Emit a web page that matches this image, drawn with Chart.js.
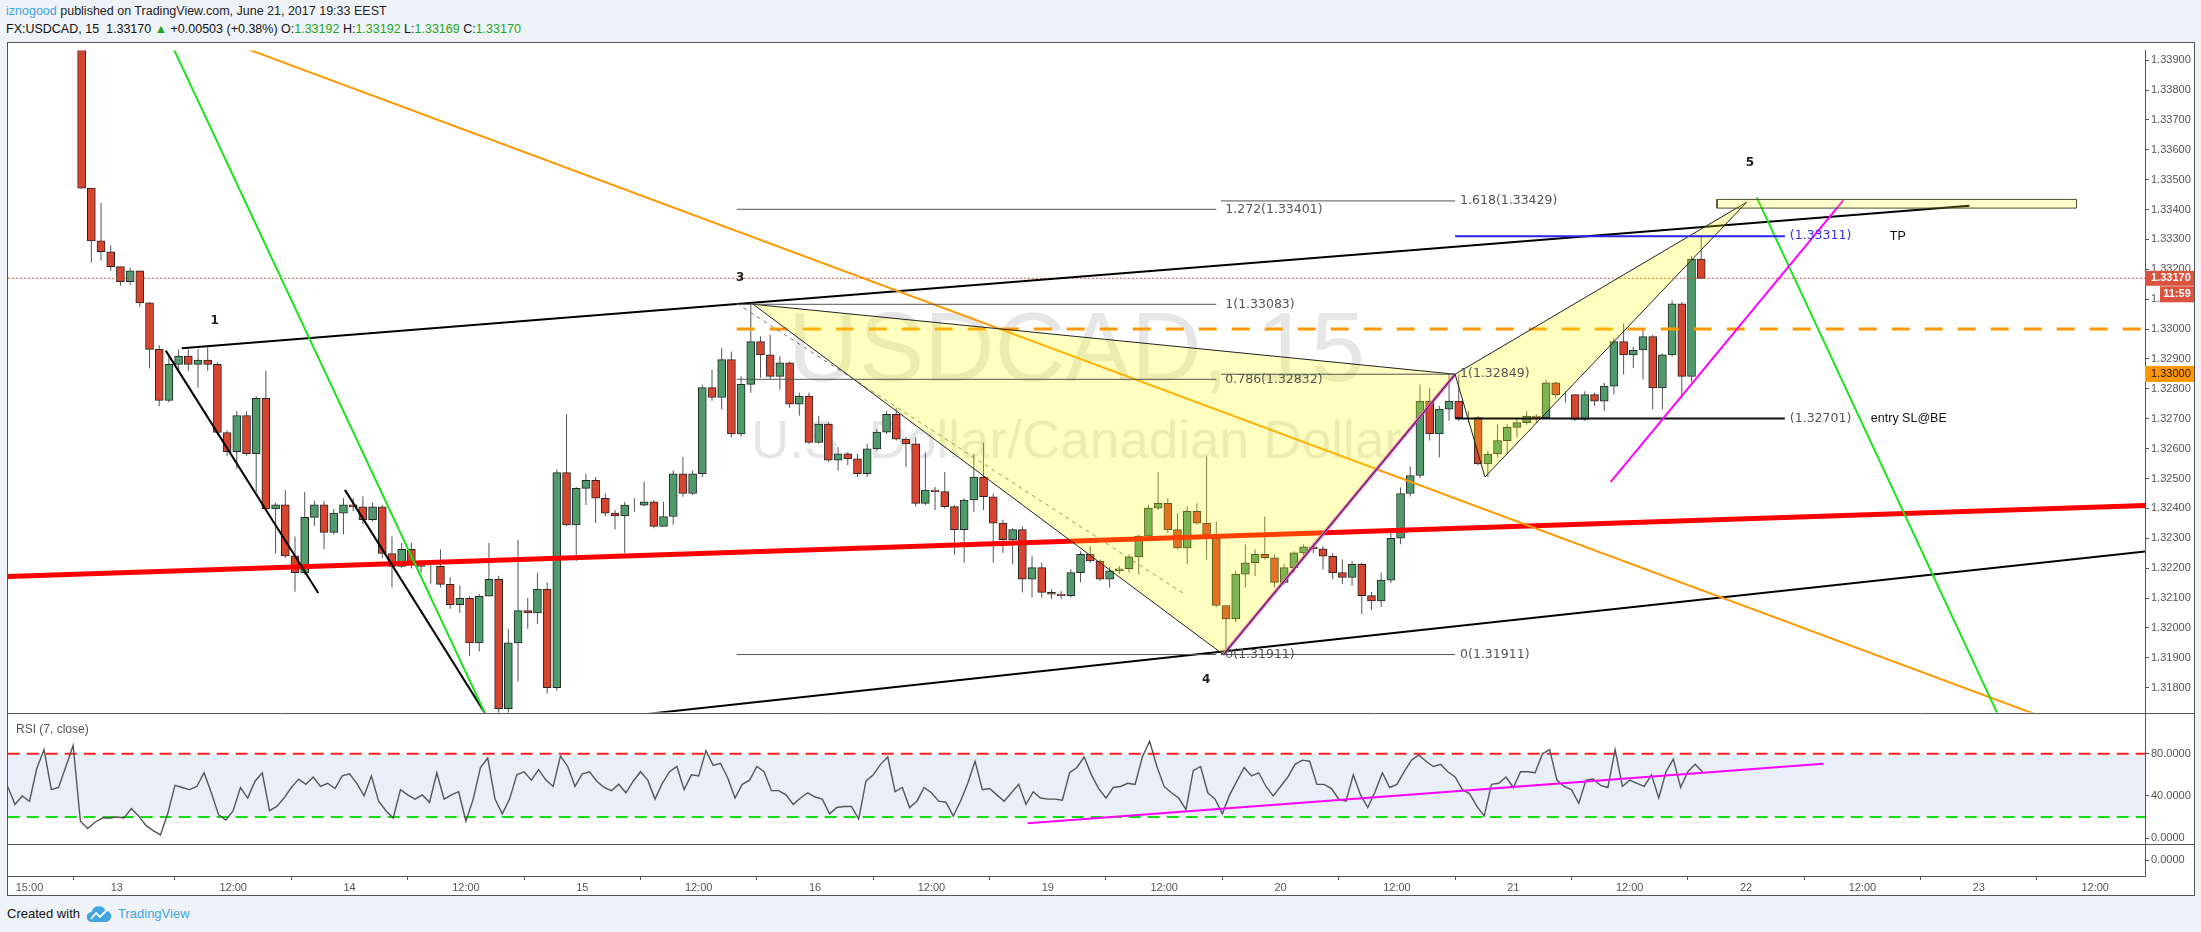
<!DOCTYPE html>
<html>
<head>
<meta charset="utf-8">
<script src="https://cdn.jsdelivr.net/npm/chart.js@4.4.1/dist/chart.umd.min.js"></script>
<style>
  html, body { margin: 0; padding: 0; width: 2201px; height: 932px; overflow: hidden; background: #eff3f7;
    font-family: "Liberation Sans", Arial, sans-serif; }
  #hdr1 { position: absolute; left: 6px; top: 4px; font-size: 12.5px; color: #222; white-space: nowrap; }
  #hdr1 .user { color: #3da4dd; }
  #hdr2 { position: absolute; left: 6px; top: 22px; font-size: 12.5px; color: #111; white-space: nowrap; }
  .g { color: #1ea51e; }
  #wrap { position: absolute; left: 7px; top: 42px; width: 2188px; height: 854px; }
  #footer { position: absolute; left: 7px; top: 906px; font-size: 13px; color: #111; white-space: nowrap; }
  #footer svg { position: absolute; left: 80px; top: -1px; }
  #footer .tv { position: absolute; left: 111px; top: 0; color: #42a5dd; }
</style>
</head>
<body>
<div id="hdr1"><span class="user">iznogood</span> published on TradingView.com, June 21, 2017 19:33 EEST</div>
<div id="hdr2">FX:USDCAD, 15&nbsp; 1.33170 <span class="g">▲</span> +0.00503 (+0.38%) O:<span class="g">1.33192</span> H:<span class="g">1.33192</span> L:<span class="g">1.33169</span> C:<span class="g">1.33170</span></div>
<div id="wrap"><canvas id="tv" width="2188" height="854"></canvas></div>
<div id="footer">Created with
  <svg width="25" height="18" viewBox="0 0 25 18"><path d="M5 17a5 5 0 0 1-0.5-10A7.5 7.5 0 0 1 18.5 5.5 5.8 5.8 0 0 1 19.5 17z" fill="#42a5dd"/><path d="M4 14l5-6 4 4 7-7" stroke="#fff" fill="none" stroke-width="1.8"/></svg>
  <span class="tv">TradingView</span></div>
<script>
// time axis unit: 15-minute bar, 0 = Jun 12 15:00 (EEST)
var candleStartBar = 20;           // first hourly candle: Jun 12 20:00
var firstOpenPts = 3990;
// hourly candles, price = 1.3 + pts / 100000
var closePts = [3472,3295,3259,3209,3159,3195,3088,2932,2761,2882,
  2910,2882,2896,2882,2654,2590,2711,2583,2768,2398,
  2412,2241,2185,2370,2412,2320,2384,2412,2405,2362,
  2405,2249,2206,2263,2213,2206,2206,2146,2078,2099,
  1950,2106,2163,1730,1950,2058,2050,2130,1800,2520,
  2345,2467,2494,2434,2384,2375,2411,2411,2422,2340,
  2373,2516,2450,2516,2804,2771,2898,2649,2815,2958,
  2914,2842,2887,2749,2776,2621,2682,2561,2583,2566,
  2516,2599,2655,2715,2632,2616,2417,2461,2456,2406,
  2329,2428,2505,2439,2351,2295,2329,2163,2202,2119,
  2113,2108,2185,2246,2224,2163,2191,2198,2238,2307,
  2401,2417,2329,2268,2390,2351,2301,2075,2030,2180,
  2218,2246,2235,2152,2202,2251,2271,2265,2240,2185,
  2169,2213,2108,2090,2160,2300,2450,2510,2759,2649,
  2732,2759,2704,2704,2549,2582,2627,2671,2687,2709,
  2704,2820,2781,2781,2698,2781,2759,2809,2958,2914,
  2930,2975,2803,2914,3085,2842,3234,3170];
var highPts = [4000,3472,3422,3280,3209,3205,3195,3090,2946,2917,
  2932,2932,2932,2939,2889,2661,2725,2725,2775,2861,
  2419,2462,2306,2455,2426,2426,2398,2434,2434,2441,
  2419,2412,2306,2284,2284,2227,2220,2263,2170,2142,
  2106,2113,2284,2175,1997,2295,2100,2185,2152,2530,
  2715,2472,2516,2505,2450,2395,2422,2434,2489,2428,
  2422,2527,2572,2527,2815,2865,2936,2925,2842,3083,
  2975,2981,2909,2892,2787,2787,2710,2688,2605,2588,
  2583,2616,2666,2726,2737,2638,2638,2588,2472,2522,
  2411,2434,2583,2621,2450,2362,2334,2340,2240,2218,
  2130,2124,2196,2257,2274,2229,2202,2207,2246,2312,
  2412,2522,2434,2384,2406,2417,2574,2356,2075,2191,
  2279,2263,2373,2246,2213,2257,2279,2285,2274,2251,
  2229,2224,2218,2120,2185,2330,2470,2540,2814,2803,
  2743,2849,2849,2726,2709,2593,2682,2682,2698,2726,
  2715,2831,2825,2792,2781,2792,2787,2820,2969,3019,
  2941,2997,2980,2919,3096,3091,3245,3312];
var lowPts = [3470,3223,3230,3195,3145,3148,3074,2868,2742,2755,
  2853,2860,2804,2860,2647,2576,2533,2576,2455,2391,
  2249,2234,2121,2178,2341,2263,2313,2313,2391,2348,
  2355,2234,2135,2200,2199,2185,2149,2135,2064,2050,
  1907,1921,2106,1700,1700,1820,1997,2013,1780,1790,
  2340,2223,2411,2351,2373,2329,2251,2389,2406,2334,
  2340,2345,2439,2445,2505,2760,2732,2638,2640,2787,
  2837,2831,2798,2737,2710,2616,2616,2555,2527,2544,
  2505,2505,2594,2649,2627,2538,2406,2411,2395,2400,
  2246,2218,2389,2395,2218,2251,2212,2119,2102,2102,
  2097,2097,2102,2152,2218,2158,2135,2180,2185,2180,
  2301,2395,2318,2263,2213,2345,2229,2069,1911,2019,
  2135,2174,2229,2135,2145,2185,2240,2251,2196,2163,
  2147,2141,2047,2060,2070,2150,2280,2440,2500,2627,
  2571,2693,2693,2687,2544,2505,2571,2582,2638,2680,
  2687,2704,2770,2754,2693,2693,2743,2726,2781,2848,
  2870,2831,2732,2732,2908,2765,2825,3169];

// RSI(7) sampled every 3 bars from bar -9
var rsiStartBar = -9;
var rsiStepBars = 3;
var rsiValues = [49,32,40,35,66,84,46,48,68,88,
  16,9,15,19,19,20,19,28,21,12,
  7,3,23,50,48,46,49,62,43,22,
  17,26,48,38,54,62,26,30,38,48,
  56,51,58,49,52,47,59,61,52,40,
  59,35,26,19,46,41,37,41,34,62,
  37,41,44,16,37,67,76,37,23,37,
  60,63,55,65,55,49,78,68,49,61,
  63,54,48,45,51,43,54,63,55,37,
  52,63,68,46,60,59,83,69,71,57,
  38,51,55,68,63,45,45,41,32,38,
  43,39,37,23,29,30,30,18,54,60,
  70,77,44,48,29,35,48,43,35,34,
  21,35,52,73,46,47,41,35,43,51,
  32,44,38,37,37,36,62,67,77,60,
  47,38,48,49,52,51,77,92,68,49,
  43,38,27,64,68,43,37,23,41,54,
  67,59,62,49,40,49,58,70,74,73,
  51,51,47,37,35,60,41,29,44,62,
  48,51,63,74,79,73,68,70,63,58,
  46,42,30,21,51,52,58,48,63,63,
  62,80,84,55,49,46,33,55,56,50,
  48,84,49,55,52,49,60,38,63,75,
  48,63,70,63];

var timeTickBars = [0,36,84,132,180,228,276,324,372,420,468,516,564,612,660,708,756,804,852];
var timeTickLabels = ['15:00','13','12:00','14','12:00','15','12:00','16','12:00','19','12:00','20','12:00','21','12:00','22','12:00','23','12:00'];
var priceTicks = [1.318,1.319,1.320,1.321,1.322,1.323,1.324,1.325,1.326,1.327,1.328,1.329,1.330,1.331,1.332,1.333,1.334,1.335,1.336,1.337,1.338,1.339];
var rsiTicks = [0, 40, 80];

// drawings, as [bar, price]
var redTrend = [[-9, 1.32172], [873, 1.32410]];
var blackBottomTrend = [[250, 1.31708], [873, 1.32256]];
var blackTopTrend = [[62.8, 1.32936], [800.1, 1.33413]];
var blackLeg1 = [[56.2, 1.32928], [119.1, 1.32117]];
var blackLeg2 = [[130.1, 1.32462], [190, 1.31687]];
var greenTrend1 = [[55, 1.34015], [195, 1.31591]];
var greenTrend2 = [[712.4, 1.33441], [815, 1.31656]];
var orangeTrend = [[85, 1.33952], [830, 1.31703]];
var magentaTrend = [[652.2, 1.32489], [748.1, 1.33431]];
var grayDashed = [[291.7, 1.33086], [476.6, 1.32112]];
var patternA = [[298.5, 1.33083], [492.4, 1.31911], [588.0, 1.32849], [298.5, 1.33083]];
var patternB = [[588.0, 1.32849], [600.3, 1.32505], [708.3, 1.33425], [588.0, 1.32849]];
var levelPrice = 1.33, levelFromBar = 291.7;
var fibALevels = [0, 0.786, 1, 1.272];
var fibAPrices = [1.31911, 1.32832, 1.33083, 1.33401];
var fibASpan = [291.7, 489.5];
var fibBLevels = [0, 1, 1.618];
var fibBPrices = [1.31911, 1.32849, 1.33429];
var fibBSpan = [491.4, 588.0];
var tpPrice = 1.33311, entryPrice = 1.32701;
var tradeSpan = [588, 724];
var targetBoxBars = [696, 844.3];
var targetBoxPrices = [1.33405, 1.33434];
var waveLabels = ['1', '3', '4', '5'];
var waveBars = [76.4, 293.1, 485.3, 709.6];
var wavePrices = [1.33029, 1.33172, 1.31826, 1.33555];
var rsiTrend = [[411.7, 14.1], [739.8, 70.6]];
var lastPrice = 1.3317;
var orangeTagPrice = 1.3285;

var px = function (v) { return 1.3 + v / 100000; };
var barOf = function (k) { return candleStartBar + 4 * k + 1.5; };
var pts = function (arr) { return arr.map(function (p) { return {x: p[0], y: p[1]}; }); };

var opens = closePts.map(function (c, k) { return k === 0 ? firstOpenPts : closePts[k - 1]; });
var bodyData = closePts.map(function (c, k) { return {x: barOf(k), y: [px(opens[k]), px(c)]}; });
var wickData = closePts.map(function (c, k) { return {x: barOf(k), y: [px(lowPts[k]), px(highPts[k])]}; });
var rsiData = rsiValues.map(function (v, j) { return {x: rsiStartBar + rsiStepBars * j, y: v}; });

function seg(points, color, width, order, extra) {
  var ds = {type: 'line', data: pts(points), borderColor: color, borderWidth: width, pointRadius: 0,
    yAxisID: 'y', order: order, fill: false, tension: 0};
  for (var key in extra) ds[key] = extra[key];
  return ds;
}

var datasets = [
  {type: 'bar', data: wickData, backgroundColor: '#555', maxBarThickness: 1, inflateAmount: 0,
    grouped: false, yAxisID: 'y', order: 60},
  {type: 'bar', data: bodyData, grouped: false, yAxisID: 'y', order: 59, maxBarThickness: 8,
    categoryPercentage: 1, barPercentage: 1,
    borderWidth: 1, borderColor: '#262626', borderSkipped: false,
    backgroundColor: function (c) { var r = c.raw; return r && r.y[1] >= r.y[0] ? '#4f9b6b' : '#d8452f'; }},
  seg([[-9, lastPrice], [873, lastPrice]], '#cf4b3c', 1, 55, {borderDash: [2, 2]}),
  seg(redTrend, '#ff0000', 5, 50),
  seg(blackBottomTrend, '#000', 2, 49),
  seg(blackTopTrend, '#000', 2, 48),
  seg(blackLeg1, '#000', 2, 47),
  seg(blackLeg2, '#000', 2, 46),
  seg(orangeTrend, '#ff9800', 2, 45),
  seg(greenTrend1, '#1be31b', 2, 44),
  seg(greenTrend2, '#1be31b', 2, 43),
  seg([[levelFromBar, levelPrice], [873, levelPrice]], '#ff9800', 3, 42, {borderDash: [18, 15]}),
  seg(grayDashed, '#777', 1, 41, {borderDash: [4, 4]}),
  seg([patternA[1], patternA[2]], '#e040e0', 3, 40),
  seg(patternA, '#222', 1, 39, {fill: 'shape', backgroundColor: 'rgba(255,255,0,0.25)'}),
  seg(patternB, '#222', 1, 38, {fill: 'shape', backgroundColor: 'rgba(255,255,0,0.25)'})
];
fibAPrices.forEach(function (p) { datasets.push(seg([[fibASpan[0], p], [fibASpan[1], p]], '#555', 1, 37)); });
fibBPrices.forEach(function (p) { datasets.push(seg([[fibBSpan[0], p], [fibBSpan[1], p]], '#555', 1, 37)); });
datasets.push(seg([[tradeSpan[0], tpPrice], [tradeSpan[1], tpPrice]], '#2525ee', 2, 36));
datasets.push(seg([[tradeSpan[0], entryPrice], [tradeSpan[1], entryPrice]], '#111', 2, 36));
datasets.push(seg(magentaTrend, '#ff00ff', 2, 35));
datasets.push(seg([[targetBoxBars[0], targetBoxPrices[0]], [targetBoxBars[1], targetBoxPrices[0]],
  [targetBoxBars[1], targetBoxPrices[1]], [targetBoxBars[0], targetBoxPrices[1]], [targetBoxBars[0], targetBoxPrices[0]]],
  '#4a4a30', 1, 34, {fill: 'shape', backgroundColor: 'rgba(255,255,0,0.2)'}));
// RSI pane
datasets.push(seg([[-9, 80], [873, 80]], '#ff2020', 2, 33, {yAxisID: 'yRsi', borderDash: [12, 7]}));
datasets.push(seg([[-9, 20], [873, 20]], '#10e010', 2, 33, {yAxisID: 'yRsi', borderDash: [12, 7]}));
datasets.push({type: 'line', data: rsiData, borderColor: '#555', borderWidth: 1.4, pointRadius: 0,
  yAxisID: 'yRsi', order: 32, tension: 0, fill: false});
datasets.push(seg(rsiTrend, '#ff00ff', 2, 31, {yAxisID: 'yRsi'}));

var tickFont = {family: '"Liberation Sans", Arial, sans-serif', size: 11};
var labelFont = '12.5px "DejaVu Sans", sans-serif';

function put(ctx, str, x, y, font, color, align) {
  ctx.font = font; ctx.fillStyle = color; ctx.textAlign = align || 'left'; ctx.textBaseline = 'middle';
  ctx.fillText(str, x, y);
}

var tvDecor = {
  id: 'tvDecor',
  beforeDraw: function (chart) {
    var ctx = chart.ctx;
    ctx.save(); ctx.fillStyle = '#fff'; ctx.fillRect(0, 0, chart.width, chart.height); ctx.restore();
  },
  beforeDatasetsDraw: function (chart) {
    var ctx = chart.ctx, xs = chart.scales.x, ys = chart.scales.y, rs = chart.scales.yRsi;
    ctx.save();
    ctx.fillStyle = '#e9eff8';
    var t = rs.getPixelForValue(80), b = rs.getPixelForValue(20);
    ctx.fillRect(xs.left, t, xs.right - xs.left, b - t);
    var cx = (xs.left + xs.right) / 2;
    ctx.fillStyle = 'rgba(128,128,128,0.2)';
    ctx.textAlign = 'center'; ctx.textBaseline = 'alphabetic';
    ctx.font = '98px "Liberation Sans", Arial, sans-serif';
    ctx.fillText('USDCAD, 15', cx, ys.top + 330);
    ctx.font = '53px "Liberation Sans", Arial, sans-serif';
    ctx.fillText('U.S. Dollar/Canadian Dollar', cx, ys.top + 407);
    ctx.restore();
  },
  afterDatasetsDraw: function (chart) {
    var ctx = chart.ctx, xs = chart.scales.x, ys = chart.scales.y, rs = chart.scales.yRsi;
    var X = function (v) { return xs.getPixelForValue(v); }, Y = function (v) { return ys.getPixelForValue(v); };
    ctx.save();
    fibALevels.forEach(function (l, i) {
      put(ctx, l + '(' + fibAPrices[i].toFixed(5) + ')', X(fibASpan[1]) + 9, Y(fibAPrices[i]), labelFont, '#555');
    });
    fibBLevels.forEach(function (l, i) {
      put(ctx, l + '(' + fibBPrices[i].toFixed(5) + ')', X(fibBSpan[1]) + 5, Y(fibBPrices[i]), labelFont, '#555');
    });
    put(ctx, '(' + tpPrice.toFixed(5) + ')', X(tradeSpan[1]) + 5, Y(tpPrice), labelFont, '#3434e6');
    put(ctx, '(' + entryPrice.toFixed(5) + ')', X(tradeSpan[1]) + 5, Y(entryPrice), labelFont, '#555');
    put(ctx, 'TP', X(tradeSpan[1]) + 105, Y(tpPrice), '12.5px "Liberation Sans", Arial, sans-serif', '#111');
    put(ctx, 'entry SL@BE', X(tradeSpan[1]) + 86, Y(entryPrice), '12.5px "Liberation Sans", Arial, sans-serif', '#111');
    waveLabels.forEach(function (s, i) {
      put(ctx, s, X(waveBars[i]), Y(wavePrices[i]), 'bold 12px "DejaVu Sans", sans-serif', '#222', 'center');
    });
    put(ctx, 'RSI (7, close)', xs.left + 8, rs.top + 17, '12px "Liberation Sans", Arial, sans-serif', '#555');
    ctx.restore();
  },
  afterDraw: function (chart) {
    var ctx = chart.ctx, ys = chart.scales.y, rs = chart.scales.yRsi, es = chart.scales.yEmpty;
    ctx.save();
    ctx.strokeStyle = '#555'; ctx.lineWidth = 1;
    [rs.top, es.top].forEach(function (yy) {
      var y = Math.round(yy) + 0.5;
      ctx.beginPath(); ctx.moveTo(0, y); ctx.lineTo(chart.width, y); ctx.stroke();
    });
    ctx.strokeRect(0.5, 0.5, chart.width - 1, chart.height - 1);
    // price tags on the axis
    var ty = ys.getPixelForValue(lastPrice);
    ctx.fillStyle = '#d9533f';
    ctx.fillRect(ys.left, ty - 7.5, ys.right - ys.left, 15);
    ctx.fillRect(ys.right - 34, ty + 8, 34, 16);
    put(ctx, lastPrice.toFixed(5), ys.left + 6, ty, 'bold 11px "Liberation Sans", Arial, sans-serif', '#fff');
    put(ctx, '11:59', ys.right - 17, ty + 16, 'bold 11px "Liberation Sans", Arial, sans-serif', '#fff', 'center');
    var oy = ys.getPixelForValue(orangeTagPrice);
    ctx.fillStyle = '#ff9800';
    ctx.fillRect(ys.left, oy - 8, ys.right - ys.left, 16);
    put(ctx, levelPrice.toFixed(5), ys.left + 6, oy, '11px "Liberation Sans", Arial, sans-serif', '#111');
    ctx.restore();
  }
};

function yAxis(weight, min, max, tickList, digits) {
  return {
    type: 'linear', position: 'right', stack: 'panes', stackWeight: weight, min: min, max: max,
    grid: {drawOnChartArea: false, drawTicks: true, tickLength: 4, color: '#555'},
    border: {color: '#555'},
    ticks: {color: '#555', font: tickFont, padding: 2, autoSkip: false,
      callback: function (v) { return Number(v).toFixed(digits); }},
    afterBuildTicks: function (s) { s.ticks = tickList.map(function (v) { return {value: v}; }); },
    afterFit: function (s) { s.width = 49; }
  };
}

new Chart(document.getElementById('tv'), {
  type: 'line',
  data: {datasets: datasets},
  options: {
    responsive: false, animation: false, devicePixelRatio: 1, events: [],
    layout: {padding: {left: 1, right: 1, top: 1, bottom: 1}},
    plugins: {legend: {display: false}, tooltip: {enabled: false}},
    scales: {
      x: {
        type: 'linear', position: 'bottom', min: -8.87, max: 872.55, offset: false,
        grid: {drawOnChartArea: false, drawTicks: true, tickLength: 4, color: '#555'},
        border: {color: '#555'},
        ticks: {color: '#555', font: tickFont, padding: 1, autoSkip: false, maxRotation: 0,
          callback: function (v) { var i = timeTickBars.indexOf(v); return i < 0 ? '' : timeTickLabels[i]; }},
        afterBuildTicks: function (s) { s.ticks = timeTickBars.map(function (v) { return {value: v}; }); },
        afterFit: function (s) { s.height = 19; }
      },
      y: yAxis(668, 1.31717, 1.33932, priceTicks, 5),
      yRsi: yAxis(133, -5.93, 119.25, rsiTicks, 4),
      yEmpty: yAxis(32, -1, 1, [0], 4)
    }
  },
  plugins: [tvDecor]
});
</script>
</body>
</html>
